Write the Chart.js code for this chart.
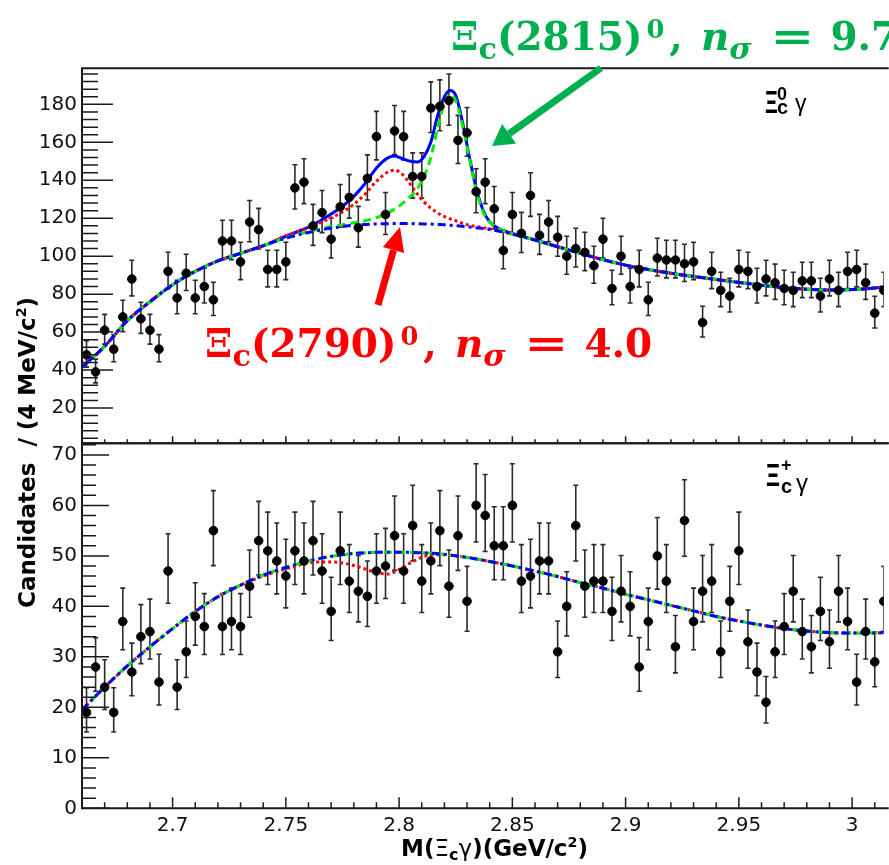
<!DOCTYPE html>
<html lang="en">
<head>
<meta charset="utf-8">
<title>M(Ξcγ)</title>
<script src="https://cdn.jsdelivr.net/npm/chart.js@4.4.1/dist/chart.umd.min.js"></script>
<style>
  html, body { margin: 0; padding: 0; background: #fff; }
  #quadro { position: relative; width: 889px; height: 865px; overflow: hidden; background: #fff; }
  #quadro canvas { position: absolute; left: 0; top: 0; }
  #quadro svg { position: absolute; left: 0; top: 0; }
  .titulo { position: absolute; white-space: pre; font: bold 23px "DejaVu Sans"; line-height: 1; color: #000; }
  .titulo sub { font-size: 0.7em; vertical-align: -0.25em; line-height: 0; }
  .titulo sup { font-size: 0.62em; vertical-align: 0.62em; line-height: 0; }
  .grego { font-weight: normal; }
  .anot { position: absolute; white-space: nowrap; font: bold 39px "DejaVu Serif"; line-height: 1; }
  .anot sub { font-size: 0.78em; vertical-align: -0.28em; line-height: 0; }
  .anot sup { font-size: 0.66em; vertical-align: 0.48em; line-height: 0; margin-left: 4px; }
  .anot .virg { margin-left: 5px; }
  .anot .esp { display: inline-block; width: 18px; }
  .anot .igual { display: inline-block; transform: scaleX(1.35); margin: 0 22px 0 24px; }
  .canal { position: absolute; white-space: nowrap; font-family: "Liberation Sans"; line-height: 1; color: #000; }
</style>
</head>
<body>
<div id="quadro">
  <canvas id="grafico-baixo" width="889" height="865"></canvas>
  <canvas id="grafico-cima" width="889" height="865"></canvas>

  <svg width="889" height="865">
    <line x1="601" y1="68" x2="509.1" y2="133.8" stroke="#00b050" stroke-width="7"/>
    <polygon points="492,146 516.1,143.6 502.1,124.0" fill="#00b050"/>
    <line x1="378" y1="305" x2="393.5" y2="250.1" stroke="#ff0000" stroke-width="7"/>
    <polygon points="400,227 404.1,253.1 382.9,247.1" fill="#ff0000"/>
  </svg>

  <div class="anot" style="left:451px;top:17px;color:#00b050">Ξ<sub>c</sub>(2815)<sup>0</sup><span class="virg">,</span><span class="esp"></span><i>n</i><sub><i>σ</i></sub><span class="igual">=</span>9.7</div>
  <div class="anot" style="left:205px;top:324px;color:#ff0000">Ξ<sub>c</sub>(2790)<sup>0</sup><span class="virg">,</span><span class="esp"></span><i>n</i><sub><i>σ</i></sub><span class="igual">=</span>4.0</div>

  <span class="canal" style="left:765px;top:86px;font-size:32px;font-weight:bold;transform:scaleX(0.62);transform-origin:0 0">Ξ</span>
  <span class="canal" style="left:777px;top:85px;font-size:18px;font-weight:bold">0</span>
  <span class="canal" style="left:777px;top:97px;font-size:20px;font-weight:bold">c</span>
  <span class="canal" style="left:795px;top:92px;font-size:23px">γ</span>

  <span class="canal" style="left:766px;top:459px;font-size:32px;font-weight:bold;transform:scaleX(0.68);transform-origin:0 0">Ξ</span>
  <span class="canal" style="left:781px;top:456px;font-size:18px;font-weight:bold">+</span>
  <span class="canal" style="left:781px;top:476px;font-size:20px;font-weight:bold">c</span>
  <span class="canal" style="left:796px;top:471px;font-size:24px">γ</span>

  <div class="titulo" style="left:16px;top:608px;transform-origin:0 0;transform:rotate(-90deg)">Candidates  / (4 MeV/c<sup>2</sup>)</div>
  <div class="titulo" style="left:401px;top:837px">M(<span class="grego">Ξ</span><sub>c</sub><span class="grego">γ</span>)(GeV/c<sup>2</sup>)</div>
</div>

<script>
// centros dos bins de 4 MeV (GeV/c2)
const centros = [
  2.662, 2.666, 2.670, 2.674, 2.678, 2.682, 2.686, 2.690, 2.694, 2.698,
  2.702, 2.706, 2.710, 2.714, 2.718, 2.722, 2.726, 2.730, 2.734, 2.738,
  2.742, 2.746, 2.750, 2.754, 2.758, 2.762, 2.766, 2.770, 2.774, 2.778,
  2.782, 2.786, 2.790, 2.794, 2.798, 2.802, 2.806, 2.810, 2.814, 2.818,
  2.822, 2.826, 2.830, 2.834, 2.838, 2.842, 2.846, 2.850, 2.854, 2.858,
  2.862, 2.866, 2.870, 2.874, 2.878, 2.882, 2.886, 2.890, 2.894, 2.898,
  2.902, 2.906, 2.910, 2.914, 2.918, 2.922, 2.926, 2.930, 2.934, 2.938,
  2.942, 2.946, 2.950, 2.954, 2.958, 2.962, 2.966, 2.970, 2.974, 2.978,
  2.982, 2.986, 2.990, 2.994, 2.998, 3.002, 3.006, 3.010, 3.014
];

// contagens Xi_c0 gamma (painel de cima)
const contagensXi0 = [
  48, 39, 61, 51, 68, 88, 67, 61, 51, 92,
  78, 91, 78, 84, 77, 108, 108, 97, 118, 114,
  93, 93, 97, 136, 139, 116, 123, 109, 126, 131,
  115, 141, 163, 122, 166, 163, 142, 142, 178, 179,
  182, 161, 165, 134, 139, 125, 103, 122, 112, 132,
  111, 118, 110, 100, 104, 102, 95, 109, 83, 100,
  84, 93, 77, 99, 98, 98, 96, 97, 65, 92,
  82, 79, 93, 92, 84, 88, 86, 83, 82, 87,
  87, 79, 88, 82, 92, 93, 86, 70, 82
];

// contagens Xi_c+ gamma (painel de baixo)
const contagensXiMais = [
  19, 28, 24, 19, 37, 27, 34, 35, 25, 47,
  24, 31, 38, 36, 55, 36, 37, 36, 44, 53,
  51, 49, 46, 51, 49, 53, 47, 39, 51, 45,
  43, 42, 47, 48, 54, 47, 56, 45, 49, 55,
  44, 54, 41, 60, 58, 52, 52, 60, 45, 46,
  49, 49, 31, 40, 56, 44, 45, 45, 39, 43,
  40, 28, 37, 50, 45, 32, 57, 37, 43, 45,
  31, 41, 51, 33, 27, 21, 31, 36, 43, 35,
  32, 39, 33, 43, 37, 25, 35, 29, 41
];

// curvas do ajuste
const gradeCima = [
  2.66, 2.67, 2.68, 2.69, 2.70, 2.71, 2.72, 2.73, 2.74, 2.75,
  2.76, 2.765, 2.77, 2.775, 2.78, 2.785, 2.79, 2.795,
  2.798, 2.801, 2.805, 2.808, 2.811, 2.814, 2.817, 2.820, 2.8225, 2.825, 2.828, 2.831, 2.834, 2.837,
  2.84, 2.845, 2.85,
  2.86, 2.87, 2.88, 2.89, 2.90, 2.91, 2.92, 2.93, 2.94, 2.95, 2.96, 2.97, 2.98, 2.99, 3.00, 3.01,
  3.014
];
const fundoCima = [
  41.5, 52.5, 66, 76, 85, 92, 97.5, 101.5, 105.5, 109.5,
  112.5, 113.7, 114.8, 115.6, 116.3, 116.7, 117, 117.1,
  117.2, 117.2, 117.2, 117.1, 117, 116.9, 116.7, 116.5, 116.3, 116.1, 115.8, 115.4, 115, 114.6,
  114.1, 113, 111.6,
  108.5, 105, 101.5, 98.2, 95.3, 93, 91, 89.3, 87.7, 86.2, 84.7, 83.4, 82.6, 82.2, 82.4, 83.2,
  83.8
];
const totalCima = [
  41.5, 52.5, 66, 76, 85, 92, 97.5, 101.5, 105.5, 110.5,
  115.3, 118.5, 122.2, 126.3, 131.5, 138.3, 146.5, 151.8,
  152.8, 151.6, 150, 149.6, 152.5, 160, 174, 184, 187.3, 184.8, 170.5, 152.5, 136, 124.5,
  118, 114, 112,
  108.5, 105, 101.5, 98.2, 95.3, 93, 91, 89.3, 87.7, 86.2, 84.7, 83.4, 82.6, 82.2, 82.4, 83.2,
  83.8
];
const com2790Cima = [
  41.5, 52.5, 66, 76, 85, 92, 97.5, 101.5, 105.5, 110.8,
  115, 117.5, 120.2, 123.3, 127.3, 132.7, 139.5, 144.3,
  145.3, 143.6, 137.8, 132.8, 128.6, 125.3, 122.8, 120.9, 119.7, 118.7, 117.3, 116.3, 115.6, 115,
  114.5, 113.3, 111.8,
  108.5, 105, 101.5, 98.2, 95.3, 93, 91, 89.3, 87.7, 86.2, 84.7, 83.4, 82.6, 82.2, 82.4, 83.2,
  83.8
];
const com2815Cima = [
  41.5, 52.5, 66, 76, 85, 92, 97.5, 101.5, 105.5, 109.7,
  112.9, 114.3, 115.6, 116.6, 117.6, 118.7, 120.3, 122.8,
  124.8, 127.3, 131.5, 135.5, 142, 152, 167.5, 180.5, 185.3, 182, 169, 151.5, 135, 123.5,
  118, 114, 111.9,
  108.5, 105, 101.5, 98.2, 95.3, 93, 91, 89.3, 87.7, 86.2, 84.7, 83.4, 82.6, 82.2, 82.4, 83.2,
  83.8
];

const gradeBaixo = [
  2.66, 2.67, 2.68, 2.69, 2.70, 2.71, 2.72, 2.73, 2.74, 2.75,
  2.76, 2.765, 2.77, 2.775, 2.78, 2.785, 2.79, 2.795, 2.80, 2.805, 2.81, 2.815, 2.82,
  2.83, 2.84, 2.85, 2.86, 2.87, 2.88, 2.89, 2.90, 2.91, 2.92, 2.93, 2.94, 2.95, 2.96, 2.97, 2.98, 2.99, 3.00, 3.01,
  3.014
];
const fundoBaixo = [
  19.5, 24, 28.2, 32, 35.6, 39, 41.9, 44.2, 46.2, 47.7,
  49, 49.5, 49.9, 50.2, 50.5, 50.6, 50.7, 50.7, 50.7, 50.7, 50.6, 50.5, 50.3,
  49.7, 48.9, 48, 47, 45.9, 44.7, 43.6, 42.4, 41.3, 40.2, 39.1, 38, 37.1, 36.3, 35.6, 35.1, 34.8, 34.7, 34.7,
  34.8
];
const com2790Baixo = [
  19.5, 24, 28.2, 32, 35.6, 39, 41.9, 44.2, 46.0, 47.4,
  48.6, 48.8, 48.8, 48.6, 48.1, 47.4, 46.7, 46.4, 47.3, 48.6, 49.7, 50.2, 50.2,
  49.7, 48.9, 48, 47, 45.9, 44.7, 43.6, 42.4, 41.3, 40.2, 39.1, 38, 37.1, 36.3, 35.6, 35.1, 34.8, 34.7, 34.7,
  34.8
];
const com2815Baixo = fundoBaixo;

const ticksX = [2.7, 2.75, 2.8, 2.85, 2.9, 2.95, 3];
const ticksYCima = [20, 40, 60, 80, 100, 120, 140, 160, 180];
const ticksYBaixo = [0, 10, 20, 30, 40, 50, 60, 70];

const fonteTicks = { family: 'DejaVu Sans', size: 20 };

function pares(xs, ys) {
  return xs.map((x, i) => ({ x, y: ys[i] }));
}

function curva(xs, ys, cor, tracejado, ordem) {
  return {
    type: 'line',
    data: pares(xs, ys),
    showLine: true,
    borderColor: cor,
    borderWidth: 3,
    borderDash: tracejado,
    pointRadius: 0,
    cubicInterpolationMode: 'monotone',
    fill: false,
    order: ordem
  };
}

// barras de erro de Poisson desenhadas pelas escalas do grafico
const barrasErro = {
  id: 'barrasErro',
  beforeDatasetsDraw(chart) {
    const { ctx, chartArea: a, scales: { x, y } } = chart;
    ctx.save();
    ctx.beginPath();
    ctx.rect(a.left, a.top, a.right - a.left, a.bottom - a.top);
    ctx.clip();
    ctx.strokeStyle = '#2a2a2a';
    ctx.lineWidth = 1.6;
    chart.data.datasets[0].data.forEach(p => {
      const r = Math.sqrt(p.y + 0.25);
      const px = x.getPixelForValue(p.x);
      const yAlto = y.getPixelForValue(p.y + r + 0.5);
      const yBaixo = y.getPixelForValue(p.y - r + 0.5);
      ctx.beginPath();
      ctx.moveTo(px, yAlto); ctx.lineTo(px, yBaixo);
      ctx.moveTo(px - 2.5, yAlto); ctx.lineTo(px + 2.5, yAlto);
      ctx.moveTo(px - 2.5, yBaixo); ctx.lineTo(px + 2.5, yBaixo);
      ctx.stroke();
    });
    ctx.restore();
  }
};

// moldura e marcas dos eixos para dentro, como no ROOT
const moldura = {
  id: 'moldura',
  afterDraw(chart, args, o) {
    const { ctx, chartArea: a, scales: { x, y } } = chart;
    ctx.save();
    ctx.strokeStyle = '#1a1a1a';
    ctx.lineWidth = 1.5;
    ctx.beginPath();
    for (let k = Math.ceil(y.min / o.yMenor); k * o.yMenor <= y.max; k++) {
      const py = y.getPixelForValue(k * o.yMenor);
      const len = (k * o.yMenor) % o.yMaior === 0 ? o.yLongo : o.yCurto;
      ctx.moveTo(a.left, py); ctx.lineTo(a.left + len, py);
    }
    for (let k = 267; k <= 301; k++) {
      const px = x.getPixelForValue(k / 100);
      const len = k % 5 === 0 ? o.xLongo : o.xCurto;
      ctx.moveTo(px, a.bottom); ctx.lineTo(px, a.bottom - len);
    }
    ctx.stroke();
    ctx.lineWidth = 2;
    ctx.beginPath();
    ctx.moveTo(a.right + 5, a.top);
    ctx.lineTo(a.left, a.top);
    ctx.lineTo(a.left, a.bottom);
    ctx.lineTo(a.right + 5, a.bottom);
    ctx.stroke();
    ctx.restore();
  }
};

function criarPainel(id, cfg) {
  return new Chart(document.getElementById(id), {
    type: 'scatter',
    data: {
      datasets: [
        {
          data: pares(centros, cfg.contagens),
          backgroundColor: '#000',
          borderColor: '#000',
          pointRadius: 4.3,
          pointStyle: 'circle',
          order: 0
        },
        ...cfg.curvas
      ]
    },
    options: {
      responsive: false,
      animation: false,
      devicePixelRatio: 1,
      layout: { padding: { top: cfg.topo, bottom: cfg.baixo, left: 0, right: 0 } },
      plugins: {
        legend: { display: false },
        tooltip: { enabled: false },
        moldura: cfg.marcas
      },
      scales: {
        x: {
          type: 'linear',
          min: 2.66,
          max: 3.01395,
          display: cfg.mostrarX,
          grid: { display: false, drawTicks: false },
          border: { display: false },
          afterBuildTicks: s => { s.ticks = ticksX.map(v => ({ value: v })); },
          afterFit: s => { s.height = cfg.alturaX; },
          ticks: {
            font: fonteTicks,
            color: '#111',
            padding: 5,
            maxRotation: 0,
            callback: v => String(v)
          }
        },
        y: {
          type: 'linear',
          min: cfg.yMin,
          max: cfg.yMax,
          grid: { display: false, drawTicks: false },
          border: { display: false },
          afterBuildTicks: s => { s.ticks = cfg.ticksY.map(v => ({ value: v })); },
          afterFit: s => { s.width = 82; },
          ticks: { font: fonteTicks, color: '#111', padding: 5 }
        }
      }
    },
    plugins: [barrasErro, moldura]
  });
}

criarPainel('grafico-cima', {
  contagens: contagensXi0,
  curvas: [
    curva(gradeCima, totalCima, '#0000ff', [], 4),
    curva(gradeCima, com2790Cima, '#ff0000', [3, 3], 3),
    curva(gradeCima, com2815Cima, '#00ee00', [8, 5], 2),
    curva(gradeCima, fundoCima, '#0000ff', [8, 4, 3, 4], 1)
  ],
  topo: 68.3,
  baixo: 865 - 443.3,
  mostrarX: false,
  alturaX: 0,
  yMin: 1.4,
  yMax: 199,
  ticksY: ticksYCima,
  marcas: { yMenor: 4, yMaior: 20, yLongo: 31, yCurto: 16, xLongo: 7, xCurto: 4 }
});

criarPainel('grafico-baixo', {
  contagens: contagensXiMais,
  curvas: [
    curva(gradeBaixo, com2790Baixo, '#ff0000', [3, 3], 3),
    curva(gradeBaixo, com2815Baixo, '#00ee00', [8, 5], 2),
    curva(gradeBaixo, fundoBaixo, '#0000ff', [8, 4, 3, 4], 1)
  ],
  topo: 443.3,
  baixo: 0,
  mostrarX: true,
  alturaX: 865 - 808.3,
  yMin: 0,
  yMax: 72.3,
  ticksY: ticksYBaixo,
  marcas: { yMenor: 2, yMaior: 10, yLongo: 27, yCurto: 14, xLongo: 11, xCurto: 6 }
});
</script>
</body>
</html>
